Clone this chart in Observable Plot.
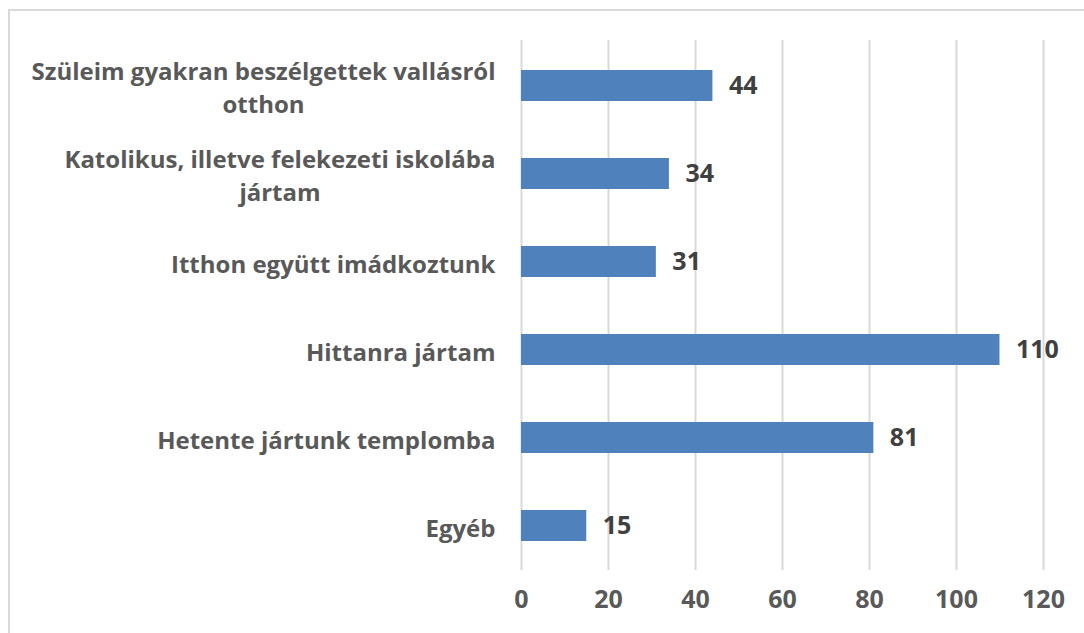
<!DOCTYPE html>
<html>
<head>
<meta charset="utf-8">
<script src="https://cdn.jsdelivr.net/npm/d3@7"></script>
<script src="https://cdn.jsdelivr.net/npm/@observablehq/plot@0.6"></script>
<style>
  html, body { margin: 0; padding: 0; background: #fff; overflow: hidden; }
  #wrap { position: relative; width: 1084px; height: 633px; }
  #border { position: absolute; left: 8px; top: 9px; width: 1200px; height: 800px;
            border-top: 2px solid #d9d9d9; border-left: 2px solid #d9d9d9; }
  #chart { position: absolute; left: 0; top: 0; }
</style>
</head>
<body>
<div id="wrap"><div id="border"></div><div id="chart"></div></div>
<script>
const categories = [
  "Szüleim gyakran beszélgettek vallásról\notthon",
  "Katolikus, illetve felekezeti iskolába\njártam",
  "Itthon együtt imádkoztunk",
  "Hittanra jártam",
  "Hetente jártunk templomba",
  "Egyéb"
];
const values = [44, 34, 31, 110, 81, 15];
const xTicks = [0, 20, 40, 60, 80, 100, 120];

const data = categories.map((c, i) => ({category: c, value: values[i]}));
const FONT = "'Open Sans', sans-serif";

const chart = Plot.plot({
  width: 1084,
  height: 633,
  marginLeft: 521,
  marginRight: 41,
  marginTop: 40,
  marginBottom: 63,
  style: {fontFamily: FONT, fontSize: "24px", fontWeight: "bold", background: "transparent", overflow: "visible"},
  x: {domain: [0, 120], ticks: xTicks},
  y: {domain: categories, paddingInner: 0.65, paddingOuter: 0.325},
  marks: [
    Plot.gridX(xTicks, {stroke: "#d9d9d9", strokeOpacity: 1, strokeWidth: 2}),
    Plot.barX(data, {x: "value", y: "category", fill: "#4F81BD"}),
    Plot.text(data, {x: "value", y: "category", text: d => String(d.value), dx: 16, textAnchor: "start",
                     fill: "#404040", fontSize: 25, fontWeight: "bold"}),
    Plot.axisX(xTicks, {tickSize: 0, tickPadding: 20, fill: "#595959", fontSize: 25, fontWeight: "bold", label: null}),
    Plot.axisY({tickSize: 0, tickPadding: 26, fill: "#595959", fontSize: 24, fontWeight: "bold", label: null,
                lineWidth: 40, lineHeight: 1.37})
  ]
});
document.getElementById("chart").appendChild(chart);

// center multi-line category labels on their own block (Excel style)
chart.querySelectorAll("[aria-label='y-axis tick label'] text").forEach(t => {
  const spans = t.querySelectorAll("tspan");
  if (spans.length > 1) {
    let w = 0;
    spans.forEach(s => { w = Math.max(w, s.getComputedTextLength()); });
    t.setAttribute("text-anchor", "middle");
    const tr = t.getAttribute("transform") || "";
    t.setAttribute("transform", tr + ` translate(${-w / 2},0)`);
  }
});
</script>
</body>
</html>
